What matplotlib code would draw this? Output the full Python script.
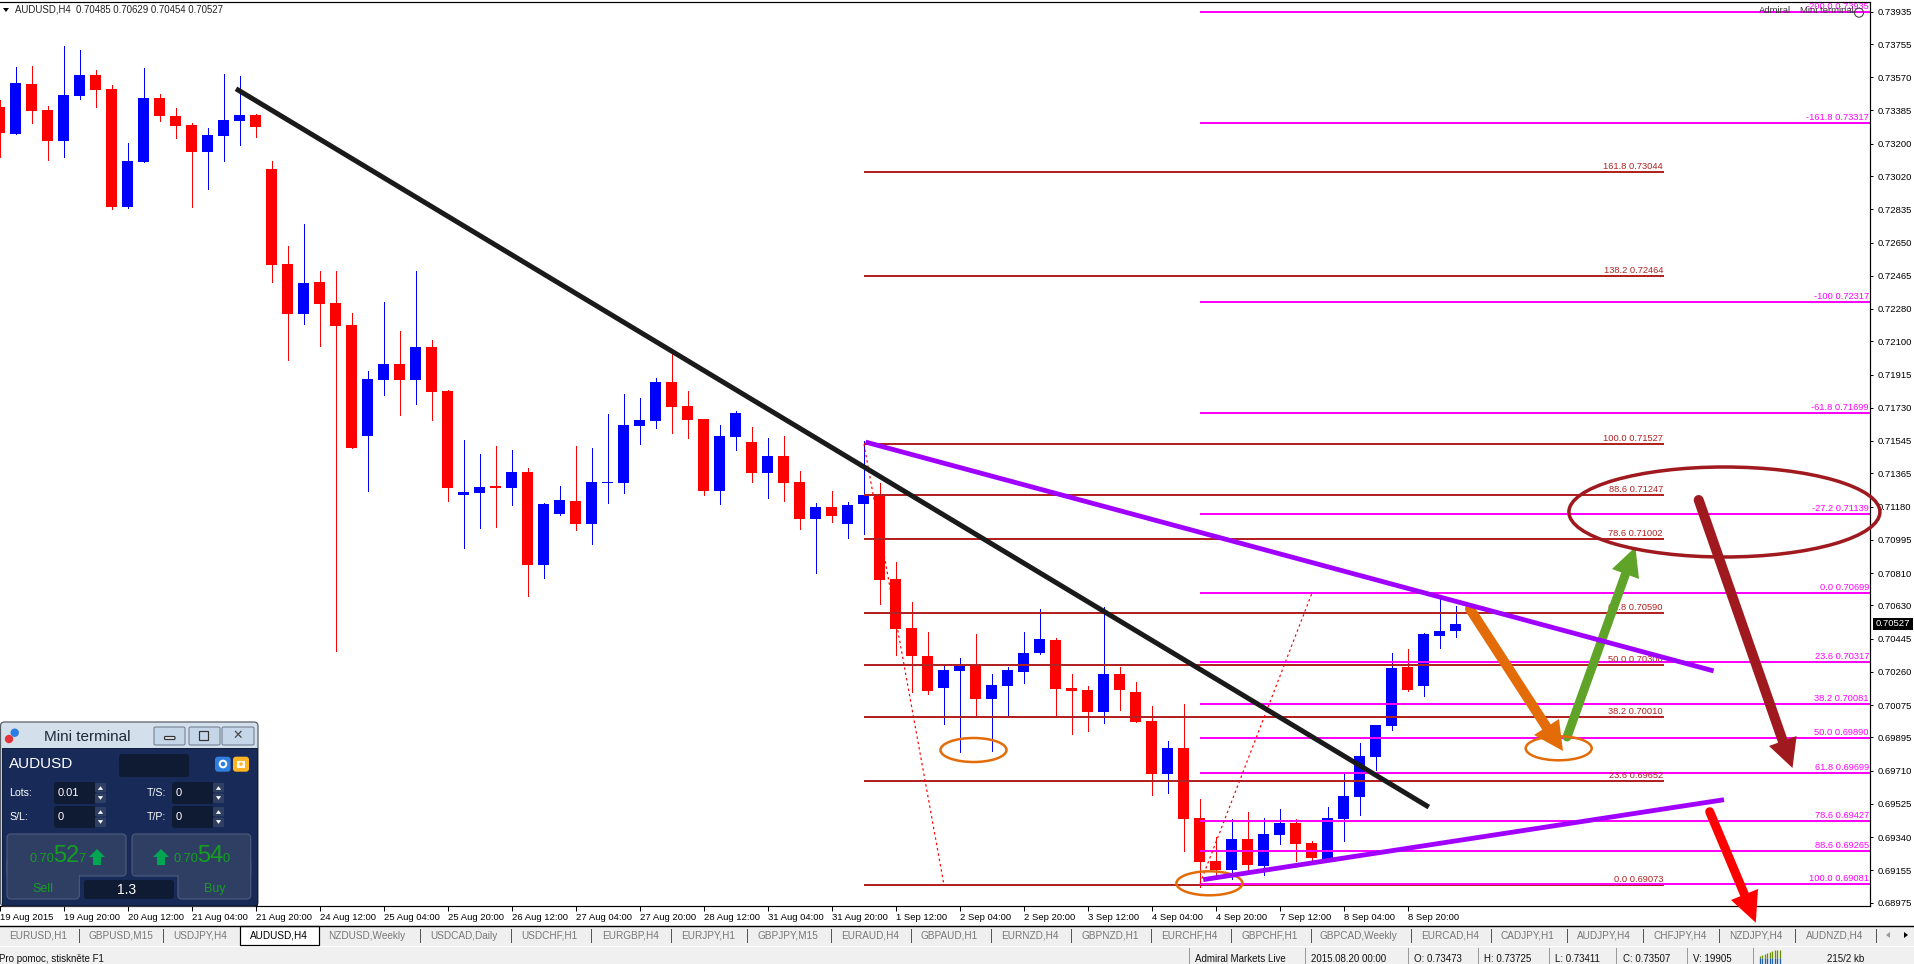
import matplotlib

matplotlib.use("Agg")
import matplotlib.pyplot as plt
import numpy as np
from matplotlib.colors import LinearSegmentedColormap
from matplotlib.patches import Circle, Ellipse, FancyBboxPatch, Polygon, Rectangle

plt.rcParams["font.family"] = ["Liberation Sans", "DejaVu Sans"]

# OHLC in points (1e-5)
opens = [73404, 73256, 73532, 73388, 73217, 73466, 73582, 73505, 72849, 73098, 73454, 73354,
         73304, 73154, 73243, 73326, 73360, 73059, 72530, 72252, 72430, 72313, 72191, 71573,
         71884, 71974, 71884, 72068, 71823, 71244, 71255, 71294, 71283, 71372, 70855, 71139,
         71211, 71083, 71311, 71311, 71628, 71656, 71873, 71740, 71667, 71267, 71567, 71539,
         71367, 71461, 71317, 71111, 71178, 71083, 71194, 71244, 70777, 70504, 70348, 70170,
         70264, 70298, 70109, 70181, 70259, 70365, 70437, 70170, 70159, 70036, 70248, 70148,
         69986, 69691, 69836, 69446, 69207, 69157, 69329, 69179, 69351, 69418, 69307, 69220,
         69441, 69563, 69786, 69958, 70287, 70181, 70459, 70485]
highs = [73443, 73627, 73633, 73410, 73744, 73722, 73610, 73527, 73204, 73621, 73477, 73399,
         73315, 73287, 73588, 73577, 73365, 73104, 72630, 72753, 72491, 72491, 72257, 71935,
         72319, 72157, 72491, 72107, 71829, 71550, 71473, 71517, 71495, 71395, 71200, 71294,
         71517, 71506, 71695, 71807, 71786, 71896, 72029, 71823, 71667, 71634, 71712, 71623,
         71562, 71573, 71378, 71200, 71267, 71205, 71545, 71311, 70871, 70649, 70482, 70292,
         70337, 70470, 70248, 70287, 70482, 70610, 70448, 70248, 70181, 70621, 70287, 70203,
         70070, 69875, 70081, 69552, 69340, 69441, 69479, 69446, 69496, 69441, 69318, 69507,
         69691, 69864, 69964, 70366, 70385, 70474, 70688, 70629]
lows = [73128, 73256, 73317, 73109, 73128, 73449, 73404, 72838, 72844, 73098, 73328, 73232,
        72849, 72948, 73104, 73193, 73237, 72430, 71996, 72196, 72074, 70376, 71506, 71267,
        71801, 71690, 71751, 71662, 71211, 70949, 71061, 71066, 71189, 70682, 70782, 71133,
        71049, 70972, 71200, 71255, 71528, 71617, 71589, 71562, 71244, 71194, 71495, 71317,
        71228, 71211, 71055, 70810, 71094, 71005, 71027, 70637, 70354, 70148, 70136, 69969,
        69814, 70020, 69819, 70014, 70198, 70359, 70014, 69914, 69930, 69975, 70047, 69981,
        69574, 69585, 69262, 69064, 69129, 69106, 69157, 69129, 69301, 69207, 69207, 69212,
        69318, 69463, 69713, 69936, 70153, 70125, 70393, 70454]
closes = [73261, 73538, 73382, 73217, 73471, 73582, 73499, 72849, 73104, 73454, 73354, 73299,
          73154, 73248, 73332, 73360, 73293, 72525, 72252, 72425, 72308, 72185, 71506, 71890,
          71974, 71884, 72068, 71818, 71283, 71261, 71289, 71283, 71372, 70855, 71194, 71216,
          71083, 71317, 71317, 71634, 71662, 71873, 71734, 71662, 71267, 71573, 71701, 71367,
          71461, 71311, 71111, 71178, 71127, 71189, 71244, 70771, 70498, 70348, 70153, 70270,
          70298, 70109, 70187, 70270, 70365, 70443, 70164, 70153, 70036, 70248, 70159, 69981,
          69691, 69836, 69441, 69201, 69157, 69329, 69184, 69357, 69416, 69301, 69223, 69446,
          69569, 69791, 69964, 70281, 70159, 70470, 70487, 70527]

date_labels = ["19 Aug 2015", "19 Aug 20:00", "20 Aug 12:00", "21 Aug 04:00", "21 Aug 20:00",
               "24 Aug 12:00", "25 Aug 04:00", "25 Aug 20:00", "26 Aug 12:00", "27 Aug 04:00",
               "27 Aug 20:00", "28 Aug 12:00", "31 Aug 04:00", "31 Aug 20:00", "1 Sep 12:00",
               "2 Sep 04:00", "2 Sep 20:00", "3 Sep 12:00", "4 Sep 04:00", "4 Sep 20:00",
               "7 Sep 12:00", "8 Sep 04:00", "8 Sep 20:00"]
price_ticks = [0.73935, 0.73755, 0.73570, 0.73385, 0.73200, 0.73020, 0.72835, 0.72650, 0.72465,
               0.72280, 0.72100, 0.71915, 0.71730, 0.71545, 0.71365, 0.71180, 0.70995, 0.70810,
               0.70630, 0.70445, 0.70260, 0.70075, 0.69895, 0.69710, 0.69525, 0.69340, 0.69155,
               0.68975]

fib_down_pct = ["161.8", "138.2", "100.0", "88.6", "78.6", "61.8", "50.0", "38.2", "23.6", "0.0"]
fib_down_price = [0.73044, 0.72464, 0.71527, 0.71247, 0.71002, 0.70590, 0.70300, 0.70010, 0.69652,
                  0.69073]
fib_up_pct = ["-200.0", "-161.8", "-100", "-61.8", "-27.2", "0.0", "23.6", "38.2", "50.0", "61.8",
              "78.6", "88.6", "100.0"]
fib_up_price = [0.73935, 0.73317, 0.72317, 0.71699, 0.71139, 0.70699, 0.70317, 0.70081, 0.69890,
                0.69699, 0.69427, 0.69265, 0.69081]

tab_labels = ["EURUSD,H1", "GBPUSD,M15", "USDJPY,H4", "AUDUSD,H4", "NZDUSD,Weekly", "USDCAD,Daily",
              "USDCHF,H1", "EURGBP,H4", "EURJPY,H1", "GBPJPY,M15", "EURAUD,H4", "GBPAUD,H1",
              "EURNZD,H4", "GBPNZD,H1", "EURCHF,H4", "GBPCHF,H1", "GBPCAD,Weekly", "EURCAD,H4",
              "CADJPY,H1", "AUDJPY,H4", "CHFJPY,H4", "NZDJPY,H4", "AUDNZD,H4"]
tab_left = [9, 89, 173, 250, 328, 430, 521, 602, 681, 758, 841, 921, 1001, 1082, 1161, 1242, 1320,
            1421, 1501, 1577, 1654, 1729, 1806]
tab_seps = [79, 163, 420, 511, 591, 671, 747, 831, 911, 991, 1071, 1151, 1231, 1311, 1411, 1491,
            1567, 1643, 1719, 1795, 1876]

status_labels = ["Admiral Markets Live", "2015.08.20 00:00", "O: 0.73473", "H: 0.73725", "L: 0.73411",
                 "C: 0.73507", "V: 19905", "215/2 kb"]
status_left = [1195, 1311, 1414, 1484, 1555, 1623, 1693, 1827]
status_seps = [1189, 1305, 1408, 1478, 1549, 1616, 1687, 1753]

W, H = 1915, 964
PX = 0.72  # points per pixel at dpi 100
BAR_PX = 16
AXIS_RIGHT, AXIS_TOP, AXIS_BOTTOM = 1870.5, 1.5, 906.3
PRICE_PER_PX = 5.567e-5

fig = plt.figure(figsize=(W / 100, H / 100), dpi=100, facecolor="white")
ax = fig.add_axes([0, 1 - AXIS_BOTTOM / H, AXIS_RIGHT / W, (AXIS_BOTTOM - AXIS_TOP) / H])
ui = fig.add_axes([0, 0, 1, 1], zorder=10)
ui.set_xlim(0, W)
ui.set_ylim(H, 0)
ui.axis("off")
ui.patch.set_alpha(0)

ax.set_xlim(0, AXIS_RIGHT / BAR_PX)
ax.set_ylim(0.74 - AXIS_BOTTOM * PRICE_PER_PX, 0.74 - AXIS_TOP * PRICE_PER_PX)

# candles
o = np.array(opens) / 1e5
h = np.array(highs) / 1e5
l = np.array(lows) / 1e5
c = np.array(closes) / 1e5
idx = np.arange(len(o))
candle_colors = ["#0000FF" if cl >= op else "#FF0000" for op, cl in zip(o, c)]
ax.vlines(idx, l, h, colors=candle_colors, lw=0.7, zorder=2, antialiased=False)
ax.bar(idx, np.abs(c - o), bottom=np.minimum(o, c), width=11 / BAR_PX, color=candle_colors,
       linewidth=0, zorder=2.1, antialiased=False)

# fibonacci levels
BROWN, MAGENTA = "#B22222", "#FF00FF"
ax.hlines(fib_down_price, 54, 104, colors=BROWN, lw=2 * PX, zorder=3)
ax.hlines(fib_up_price, 75, AXIS_RIGHT / BAR_PX, colors=MAGENTA, lw=2 * PX, zorder=3.1)
for pct, price in zip(fib_down_pct, fib_down_price):
    ax.annotate(f"{pct} {price:.5f}", (104, price), xytext=(-1 * PX, 5.5 * PX),
                textcoords="offset points", ha="right", va="center", fontsize=6.7, color=BROWN,
                zorder=3.2)
for pct, price in zip(fib_up_pct, fib_up_price):
    ax.annotate(f"{pct} {price:.5f}", (AXIS_RIGHT / BAR_PX, price), xytext=(-1.5 * PX, 5.5 * PX),
                textcoords="offset points", ha="right", va="center", fontsize=6.7, color=MAGENTA,
                annotation_clip=False, zorder=3.2)
ax.plot([54, 59], [fib_down_price[2], fib_down_price[-1]], color="#FF0000", lw=1.2 * PX,
        ls=(0, (2, 2.5)), zorder=3.3)
ax.plot([75, 82], [fib_up_price[-1], fib_up_price[5]], color="#FF0000", lw=1.2 * PX,
        ls=(0, (2, 2.5)), zorder=3.3)

# trend lines
ax.plot([14.75, 89.3], [0.73506, 0.69507], color="#1A1A1A", lw=5 * PX, zorder=4,
        solid_capstyle="butt")
ax.plot([54.1, 107.1], [0.71539, 0.70265], color="#A000FF", lw=4.8 * PX, zorder=6,
        solid_capstyle="butt")
ax.plot([75.2, 107.75], [0.69103, 0.69548], color="#A000FF", lw=4.8 * PX, zorder=6,
        solid_capstyle="butt")


def hand_arrow(start, tip, base_a, base_b, color, width):
    mid = ((base_a[0] + base_b[0]) / 2, (base_a[1] + base_b[1]) / 2)
    ax.plot([start[0], mid[0]], [start[1], mid[1]], color=color, lw=width * PX, transform=ui.transData,
            solid_capstyle="round", clip_on=False, zorder=5)
    ax.add_patch(Polygon([tip, base_a, base_b], closed=True, fc=color, ec="none",
                         transform=ui.transData, clip_on=False, zorder=5))


ORANGE, DARK_RED = "#E36C09", "#A0191E"
hand_arrow((1470, 609), (1563, 751), (1559, 719), (1534, 735), ORANGE, 10)
hand_arrow((1567, 737), (1635.4, 547), (1612, 569), (1639, 579), "#5FA328", 9)
hand_arrow((1698.7, 500), (1792.5, 768), (1769, 746), (1796.6, 736), DARK_RED, 10)
hand_arrow((1709.7, 811.7), (1755.8, 922.7), (1731, 900), (1758, 889), "#FF0000", 9)

for center in [(973.5, 750), (1209.4, 883.3), (1558.7, 748.3)]:
    ax.add_patch(Ellipse(center, 66, 24, fc="none", ec=ORANGE, lw=2.5 * PX, transform=ui.transData,
                         clip_on=False, zorder=5.5))
ax.add_patch(Ellipse((1724.4, 512), 311, 90, fc="none", ec=DARK_RED, lw=3.5 * PX,
                     transform=ui.transData, clip_on=False, zorder=5.5))

# axes, ticks
for side in ["left"]:
    ax.spines[side].set_visible(False)
for side in ["top", "right", "bottom"]:
    ax.spines[side].set_linewidth(1.2 * PX)
ax.yaxis.tick_right()
ax.set_yticks(price_ticks)
ax.set_yticklabels([f"{p:.5f}" for p in price_ticks], fontsize=6.8)
ax.tick_params(axis="y", length=3 * PX, width=1 * PX, pad=3.2)
ax.set_xticks(np.arange(len(date_labels)) * 4)
ax.set_xticklabels(date_labels, fontsize=6.8, ha="left")
ax.tick_params(axis="x", length=5 * PX, width=1 * PX, pad=1.2)

# price tag on the axis
ui.add_patch(Rectangle((1873, 618), 40, 11.5, fc="black", ec="none"))
ui.text(1876, 624, f"{closes[-1] / 1e5:.5f}", color="white", fontsize=6.8, va="center")

# chart header
ui.add_patch(Polygon([(3, 8), (9, 8), (6, 12)], fc="black", ec="none"))
ui.text(15.5, 10, "AUDUSD,H4  0.70485 0.70629 0.70454 0.70527", fontsize=6.9, color="#222222",
        va="center")
ui.text(1759, 10.7, "Admiral", fontsize=6.8, color="#333333", va="center")
ui.text(1800, 10.7, "Mini terminal", fontsize=6.8, color="#333333", va="center")
ui.add_patch(Circle((1859, 12.7), 4.5, fc="none", ec="#333333", lw=0.7))

# tab strip
ui.add_patch(Rectangle((0, 926.5), W, 19, fc="#EFEFEF", ec="none"))
ui.plot([0, W], [926, 926], color="black", lw=1.4 * PX)
ui.add_patch(Rectangle((0, 947), W, 17, fc="#F0F0F0", ec="none"))
ui.add_patch(Rectangle((240, 926), 79, 18.5, fc="white", ec="black", lw=1.2 * PX))
for tab, left in zip(tab_labels, tab_left):
    ui.text(left, 938.7, tab, fontsize=7.2, va="baseline",
            color="black" if tab == "AUDUSD,H4" else "#777777")
for sep in tab_seps:
    ui.plot([sep, sep], [929, 942], color="#555555", lw=1 * PX)
ui.add_patch(Polygon([(1890, 932), (1890, 938), (1886, 935)], fc="#999999", ec="none"))
ui.add_patch(Polygon([(1904, 932), (1904, 938), (1908, 935)], fc="black", ec="none"))

# status bar
ui.text(-1, 961.5, "Pro pomoc, stiskněte F1", fontsize=7, va="baseline", color="#111111")
for status, left in zip(status_labels, status_left):
    ui.text(left, 961.5, status, fontsize=7, va="baseline", color="#111111")
for sep in status_seps:
    ui.plot([sep, sep], [948, 964], color="#9A9A9A", lw=1 * PX)
signal_x = np.arange(1760, 1782, 2.5)
signal_top = [956, 955, 954, 953, 952, 951, 950, 950, 950]
ui.vlines(signal_x, signal_top, 958, colors="#6B8E00", lw=1.3 * PX)
ui.vlines(signal_x, np.maximum(signal_top, 958), 964, colors="#1F5FA8", lw=1.3 * PX)


# mini terminal window
def box(x0, y0, x1, y1, fc, ec="none", r=0.0, lw=1.0):
    style = f"round,pad=0,rounding_size={r}" if r else "square,pad=0"
    ui.add_patch(FancyBboxPatch((x0, y0), x1 - x0, y1 - y0, boxstyle=style, fc=fc, ec=ec,
                                lw=lw * PX))


def label(x, y, text, size, color="white", ha="left", va="center"):
    ui.text(x, y, text, fontsize=size, color=color, ha=ha, va=va)


def triangle_up(cx, cy, s, color):
    ui.add_patch(Polygon([(cx - s, cy + s * 0.7), (cx + s, cy + s * 0.7), (cx, cy - s * 0.7)], fc=color,
                         ec="none"))


def triangle_down(cx, cy, s, color):
    ui.add_patch(Polygon([(cx - s, cy - s * 0.7), (cx + s, cy - s * 0.7), (cx, cy + s * 0.7)], fc=color,
                         ec="none"))


def green_arrow(cx, top, bottom, color):
    ui.add_patch(Polygon([(cx, top), (cx + 8, top + 8), (cx + 4, top + 8), (cx + 4, bottom),
                          (cx - 4, bottom), (cx - 4, top + 8), (cx - 8, top + 8)], fc=color,
                         ec="none"))


box(0.5, 722, 258, 906, "#D3DFEB", ec="#555B63", r=4, lw=1.2)
title_cmap = LinearSegmentedColormap.from_list("title", ["#E2EAF3", "#BFD1E4"])
ui.imshow([[0], [1]], cmap=title_cmap, extent=(1.5, 257, 748, 723), aspect="auto", interpolation="bilinear",
          zorder=0.5)
ui.set_xlim(0, W)
ui.set_ylim(H, 0)
ui.add_patch(Rectangle((1.7, 748), 255, 157, fc="#182A58", ec="#0D1B3A", lw=0.7))
ui.add_patch(Circle((9, 739), 4.2, fc="#E5343A", ec="none"))
ui.add_patch(Circle((14.7, 732.7), 4.2, fc="#2C7CE5", ec="none"))
label(44, 736.7, "Mini terminal", 11, color="#1C2A3A")
for x0, x1 in [(154, 185), (189, 220), (222, 254)]:
    box(x0, 727, x1, 745, "#C5D6E8", ec="#6C7A8A", r=1.5, lw=1)
box(164.5, 736.5, 175, 739.5, "#E8EEF5", ec="#333333", r=1, lw=1.2)
box(199, 731, 208, 740, "none", ec="#333333", lw=1.2)
ui.text(237.5, 735.5, "✕", fontsize=9, color="#444444", ha="center", va="center",
        family="DejaVu Sans")

label(9.3, 764, "AUDUSD", 11)
box(119, 754, 189, 777, "#0F1A33", r=3)
box(215, 756.7, 230.6, 771.7, "#2F7FE0", r=3)
box(233, 756.7, 249, 771.7, "#FDB524", r=3)
ui.add_patch(Circle((223, 764), 3.3, fc="none", ec="white", lw=2 * PX))
ui.add_patch(Rectangle((237, 760.5), 8, 7, fc="white", ec="none"))
ui.add_patch(Circle((241, 764), 1.8, fc="#FDB524", ec="none"))

rows = [(782, 804, "Lots:", "0.01", "T/S:", "0"), (806, 828, "S/L:", "0", "T/P:", "0")]
for y0, y1, left_name, left_value, right_name, right_value in rows:
    mid = (y0 + y1) / 2
    label(9.3, mid, left_name, 7.6)
    label(147, mid, right_name, 7.6)
    for x_input, x_spin, value in [(54, 95, left_value), (172, 213, right_value)]:
        box(x_input, y0, x_spin + 1, y1, "#0F1A33", r=3)
        label(x_input + 3.5, mid, value, 8)
        box(x_spin, y0 + 1, x_spin + 11, mid - 0.5, "#2E3F63", r=1)
        box(x_spin, mid + 0.5, x_spin + 11, y1 - 1, "#2E3F63", r=1)
        triangle_up(x_spin + 5.5, y0 + 6, 2.6, "white")
        triangle_down(x_spin + 5.5, y1 - 6, 2.6, "white")

PANEL, PANEL_EDGE = "#2E3F63", "#4A5A7C"
box(7, 834, 126, 876, PANEL, ec=PANEL_EDGE, r=4, lw=1.2)
box(7, 860, 79.3, 899, PANEL, ec=PANEL_EDGE, r=4, lw=1.2)
box(132, 834, 250.7, 876, PANEL, ec=PANEL_EDGE, r=4, lw=1.2)
box(178, 860, 250.7, 899, PANEL, ec=PANEL_EDGE, r=4, lw=1.2)
# hide the seam left by the two overlapping panel parts
ui.add_patch(Rectangle((8, 855), 117, 20.4, fc=PANEL, ec="none"))
ui.add_patch(Rectangle((133, 855), 116.7, 20.4, fc=PANEL, ec="none"))
ui.add_patch(Rectangle((8, 875), 70.7, 4, fc=PANEL, ec="none"))
ui.add_patch(Rectangle((178.7, 875), 71, 4, fc=PANEL, ec="none"))
box(84, 880, 174, 899, "#0F1A33", r=3)
label(127, 890, "1.3", 10, ha="center")

PRICE_GREEN, ARROW_GREEN = "#14A01E", "#00A651"
BASE = 862
label(29.3, BASE, "0.70", 9.2, color=PRICE_GREEN, va="baseline")
label(53.5, BASE, "52", 17, color=PRICE_GREEN, va="baseline")
label(78.5, BASE, "7", 9.2, color=PRICE_GREEN, va="baseline")
green_arrow(97, 849, 865, ARROW_GREEN)
green_arrow(161, 849, 865, ARROW_GREEN)
label(173.3, BASE, "0.70", 9.2, color=PRICE_GREEN, va="baseline")
label(197.5, BASE, "54", 17, color=PRICE_GREEN, va="baseline")
label(222.5, BASE, "0", 9.2, color=PRICE_GREEN, va="baseline")
label(42.7, 892, "Sell", 9, color=PRICE_GREEN, ha="center", va="baseline")
label(215, 892, "Buy", 9, color=PRICE_GREEN, ha="center", va="baseline")

fig.savefig("out.png", dpi=100, facecolor="white")
